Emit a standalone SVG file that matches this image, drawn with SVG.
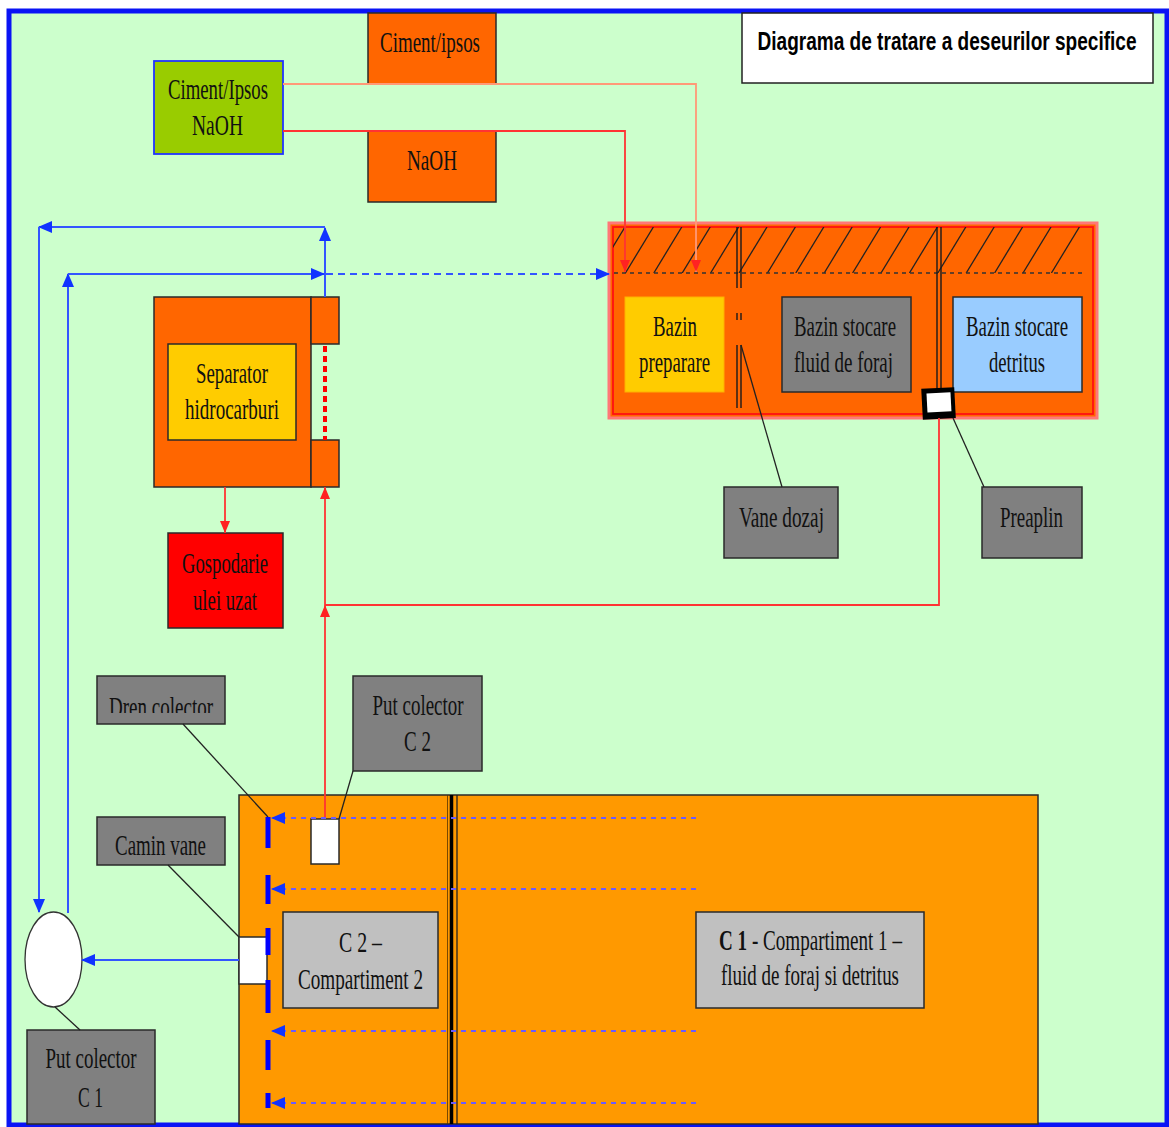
<svg xmlns="http://www.w3.org/2000/svg" width="1169" height="1127" viewBox="0 0 1169 1127">
<style>
.t{font-family:"Liberation Serif","Times New Roman",serif;font-size:30px;fill:#111;text-anchor:middle}
.ttl{font-family:"Liberation Sans",Arial,sans-serif;font-size:25px;font-weight:bold;fill:#000;text-anchor:middle}
.box{stroke:#2a2a2a;stroke-width:1.5}
.orange{fill:#FF6600}
.gray{fill:#808080}
.lgray{fill:#C0C0C0}
.blue{stroke:#3355FF;stroke-width:2;fill:none}
.red{stroke:#FF3333;stroke-width:1.8;fill:none}
.salmon{stroke:#FF9977;stroke-width:1.8;fill:none}
.ptr{stroke:#222;stroke-width:1.3;fill:none}
.wall{stroke:#1a1a1a;stroke-width:1.4;fill:none}
.hatch{stroke:#222;stroke-width:1.3}
.cdash{stroke:#6A5CFF;stroke-width:2.2;stroke-dasharray:5 5;fill:none}
</style>
<defs>
<marker id="ab" markerUnits="userSpaceOnUse" markerWidth="14" markerHeight="12" refX="13" refY="6" orient="auto"><path d="M0,0 L14,6 L0,12 Z" fill="#1133FF"/></marker>
<marker id="ar" markerUnits="userSpaceOnUse" markerWidth="12" markerHeight="10" refX="12" refY="5" orient="auto"><path d="M0,0 L12,5 L0,10 Z" fill="#FF2222"/></marker>
<clipPath id="hclip"><rect x="613" y="227" width="470" height="46"/></clipPath>
<clipPath id="drenclip"><rect x="97" y="676" width="128" height="37"/></clipPath>
</defs>

<rect id="frame" x="9" y="11" width="1158" height="1114" fill="#CCFFCC" stroke="#0A14F5" stroke-width="5"/>

<g id="title">
<rect x="742" y="13" width="411" height="70" fill="#FFFFFF" stroke="#222" stroke-width="1.5"/>
<text class="ttl" x="947" y="50" textLength="379" lengthAdjust="spacingAndGlyphs">Diagrama de tratare a deseurilor specifice</text>
</g>

<g id="ciment-ipsos">
<rect class="box orange" x="368" y="13" width="128" height="71"/>
<text class="t" x="430" y="52" textLength="100" lengthAdjust="spacingAndGlyphs">Ciment/ipsos</text>
</g>
<g id="ciment-naoh">
<rect x="154" y="61" width="129" height="93" fill="#99CC00" stroke="#2233FF" stroke-width="1.8"/>
<text class="t" x="218" y="99" textLength="100" lengthAdjust="spacingAndGlyphs">Ciment/Ipsos</text>
<text class="t" x="217.5" y="135" textLength="51" lengthAdjust="spacingAndGlyphs">NaOH</text>
</g>
<g id="naoh">
<rect class="box orange" x="368" y="131" width="128" height="71"/>
<text class="t" x="432" y="170" textLength="50" lengthAdjust="spacingAndGlyphs">NaOH</text>
</g>

<g id="bazin-container">
<rect x="609" y="223" width="488" height="195" fill="#FF6600" stroke="#FF7777" stroke-width="3"/>
<rect x="613" y="227" width="480" height="187" fill="none" stroke="#FF1111" stroke-width="1.8"/>
<g clip-path="url(#hclip)">
<line class="hatch" x1="597" y1="273" x2="625" y2="227"/>
<line class="hatch" x1="625.4" y1="273" x2="653.4" y2="227"/>
<line class="hatch" x1="653.8" y1="273" x2="681.8" y2="227"/>
<line class="hatch" x1="682.2" y1="273" x2="710.2" y2="227"/>
<line class="hatch" x1="710.6" y1="273" x2="738.6" y2="227"/>
<line class="hatch" x1="739" y1="273" x2="767" y2="227"/>
<line class="hatch" x1="767.4" y1="273" x2="795.4" y2="227"/>
<line class="hatch" x1="795.8" y1="273" x2="823.8" y2="227"/>
<line class="hatch" x1="824.2" y1="273" x2="852.2" y2="227"/>
<line class="hatch" x1="852.6" y1="273" x2="880.6" y2="227"/>
<line class="hatch" x1="881" y1="273" x2="909" y2="227"/>
<line class="hatch" x1="909.4" y1="273" x2="937.4" y2="227"/>
<line class="hatch" x1="937.8" y1="273" x2="965.8" y2="227"/>
<line class="hatch" x1="966.2" y1="273" x2="994.2" y2="227"/>
<line class="hatch" x1="994.6" y1="273" x2="1022.6" y2="227"/>
<line class="hatch" x1="1023" y1="273" x2="1051" y2="227"/>
<line class="hatch" x1="1051.4" y1="273" x2="1079.4" y2="227"/>
</g>
<line x1="614" y1="273" x2="1082" y2="273" stroke="#333" stroke-width="1.3" stroke-dasharray="4 4"/>
<path class="wall" d="M737,227 V288 M741,227 V288 M737,313 V320 M741,313 V320 M737,345 V408 M741,345 V408"/>
<path class="wall" d="M937,227 V390 M941,227 V390"/>
</g>

<g id="bazin-preparare">
<rect x="625" y="297" width="99" height="95" fill="#FFCC00" stroke="#FFB000" stroke-width="1"/>
<text class="t" x="675" y="336" textLength="44" lengthAdjust="spacingAndGlyphs">Bazin</text>
<text class="t" x="674.5" y="372" textLength="71" lengthAdjust="spacingAndGlyphs">preparare</text>
</g>
<g id="bazin-fluid">
<rect class="box gray" x="782" y="297" width="129" height="95"/>
<text class="t" x="845" y="336" textLength="102" lengthAdjust="spacingAndGlyphs">Bazin stocare</text>
<text class="t" x="843.5" y="372" textLength="99" lengthAdjust="spacingAndGlyphs">fluid de foraj</text>
</g>
<g id="bazin-detritus">
<rect class="box" x="953" y="297" width="129" height="95" fill="#99CCFF"/>
<text class="t" x="1017" y="336" textLength="102" lengthAdjust="spacingAndGlyphs">Bazin stocare</text>
<text class="t" x="1017" y="372" textLength="56" lengthAdjust="spacingAndGlyphs">detritus</text>
</g>
<g id="valve" transform="rotate(-3 938 403)">
<rect x="922" y="388" width="33" height="31" fill="#000"/>
<rect x="927" y="393" width="24" height="19" fill="#FFF"/>
</g>

<g id="separator">
<rect class="box orange" x="154" y="297" width="157" height="190"/>
<rect class="box orange" x="311" y="297" width="28" height="47"/>
<rect class="box orange" x="311" y="440" width="28" height="47"/>
<line x1="325" y1="346" x2="325" y2="440" stroke="#FF0000" stroke-width="4" stroke-dasharray="6 4"/>
<rect class="box" x="168" y="344" width="128" height="96" fill="#FFCC00"/>
<text class="t" x="232" y="383" textLength="72" lengthAdjust="spacingAndGlyphs">Separator</text>
<text class="t" x="232" y="419" textLength="94" lengthAdjust="spacingAndGlyphs">hidrocarburi</text>
</g>

<g id="gospodarie">
<rect class="box" x="168" y="533" width="115" height="95" fill="#FF0000"/>
<text class="t" x="225" y="573" textLength="86" lengthAdjust="spacingAndGlyphs">Gospodarie</text>
<text class="t" x="225" y="610" textLength="64" lengthAdjust="spacingAndGlyphs">ulei uzat</text>
</g>

<g id="vane-dozaj">
<rect class="box gray" x="724" y="487" width="114" height="71"/>
<text class="t" x="781.5" y="527" textLength="85" lengthAdjust="spacingAndGlyphs">Vane dozaj</text>
</g>
<g id="preaplin">
<rect class="box gray" x="982" y="487" width="100" height="71"/>
<text class="t" x="1031.5" y="527" textLength="63" lengthAdjust="spacingAndGlyphs">Preaplin</text>
</g>

<g id="compartiment">
<rect class="box" x="239" y="795" width="799" height="329" fill="#FF9900"/>
<line x1="451.5" y1="795" x2="451.5" y2="1124" stroke="#000" stroke-width="3.5"/>
<line x1="457" y1="795" x2="457" y2="1124" stroke="#222" stroke-width="1.3"/>
<line x1="447.5" y1="795" x2="447.5" y2="1124" stroke="#553300" stroke-width="0.8"/>
</g>

<g id="dren-colector">
<rect class="box gray" x="97" y="676" width="128" height="48"/>
<text class="t" x="161" y="717" textLength="104" lengthAdjust="spacingAndGlyphs" clip-path="url(#drenclip)">Dren colector</text>
</g>
<g id="put-colector-c2">
<rect class="box gray" x="353" y="676" width="129" height="95"/>
<text class="t" x="418" y="715" textLength="91" lengthAdjust="spacingAndGlyphs">Put colector</text>
<text class="t" x="417.5" y="751" textLength="27" lengthAdjust="spacingAndGlyphs">C 2</text>
</g>
<g id="camin-vane">
<rect class="box gray" x="97" y="817" width="128" height="48"/>
<text class="t" x="160.5" y="855" textLength="91" lengthAdjust="spacingAndGlyphs">Camin vane</text>
</g>
<g id="c2-box">
<rect class="box" x="311" y="819" width="28" height="45" fill="#FFF"/>
</g>
<g id="camin-box">
<rect class="box" x="239" y="937" width="28" height="47" fill="#FFF"/>
</g>
<g id="compartiment-2">
<rect class="box lgray" x="283" y="912" width="155" height="96"/>
<text class="t" x="360.5" y="952" textLength="43" lengthAdjust="spacingAndGlyphs">C 2 –</text>
<text class="t" x="360.5" y="989" textLength="125" lengthAdjust="spacingAndGlyphs">Compartiment 2</text>
</g>
<g id="compartiment-1">
<rect class="box lgray" x="696" y="912" width="228" height="96"/>
<text class="t" x="810.5" y="950" textLength="183" lengthAdjust="spacingAndGlyphs"><tspan font-weight="bold">C 1</tspan> - Compartiment 1 –</text>
<text class="t" x="810" y="985" textLength="178" lengthAdjust="spacingAndGlyphs">fluid de foraj si detritus</text>
</g>
<g id="put-colector-c1">
<ellipse cx="53.5" cy="959.5" rx="28.5" ry="47.5" fill="#FFF" stroke="#333" stroke-width="1.3"/>
<rect class="box gray" x="27" y="1030" width="128" height="94"/>
<text class="t" x="91" y="1068" textLength="91" lengthAdjust="spacingAndGlyphs">Put colector</text>
<text class="t" x="90.5" y="1107" textLength="25" lengthAdjust="spacingAndGlyphs">C 1</text>
</g>

<g id="connectors">
<path class="salmon" d="M283,84 H696 V272" marker-end="url(#ar)"/>
<path class="red" d="M283,131 H625 V272" marker-end="url(#ar)"/>
<path class="red" d="M225,487 V533" marker-end="url(#ar)"/>
<path class="red" d="M939,418 V605 H325"/>
<path class="red" d="M325,819 V605" marker-end="url(#ar)"/>
<path class="red" d="M325,605 V487" marker-end="url(#ar)"/>
<path class="blue" d="M325,297 V228" marker-end="url(#ab)"/>
<path class="blue" d="M325,227 H39" marker-end="url(#ab)"/>
<path class="blue" d="M39,227 V912" marker-end="url(#ab)"/>
<path class="blue" d="M68,913 V274" marker-end="url(#ab)"/>
<path class="blue" d="M68,274 H324" marker-end="url(#ab)"/>
<path class="blue" d="M326,274 H609" stroke-dasharray="7 5" marker-end="url(#ab)"/>
<path class="blue" d="M239,960 H82" marker-end="url(#ab)"/>
<path class="ptr" d="M741,345 L782,487"/>
<path class="ptr" d="M953,418 L984,487"/>
<path class="ptr" d="M183,724 L268,817"/>
<path class="ptr" d="M353,771 L339,819"/>
<path class="ptr" d="M168,865 L239,937"/>
<path class="ptr" d="M55,1007 L80,1030"/>
<path class="cdash" d="M696,818 H272" marker-end="url(#ab)"/>
<path class="cdash" d="M696,889 H272" marker-end="url(#ab)"/>
<path class="cdash" d="M696,1031 H272" marker-end="url(#ab)"/>
<path class="cdash" d="M696,1103 H272" marker-end="url(#ab)"/>
<path d="M268,817 V848 M268,875 V904 M268,928 V955 M268,980 V1013 M268,1040 V1070 M268,1093 V1108" stroke="#0000FF" stroke-width="5" fill="none"/>
</g>
</svg>
